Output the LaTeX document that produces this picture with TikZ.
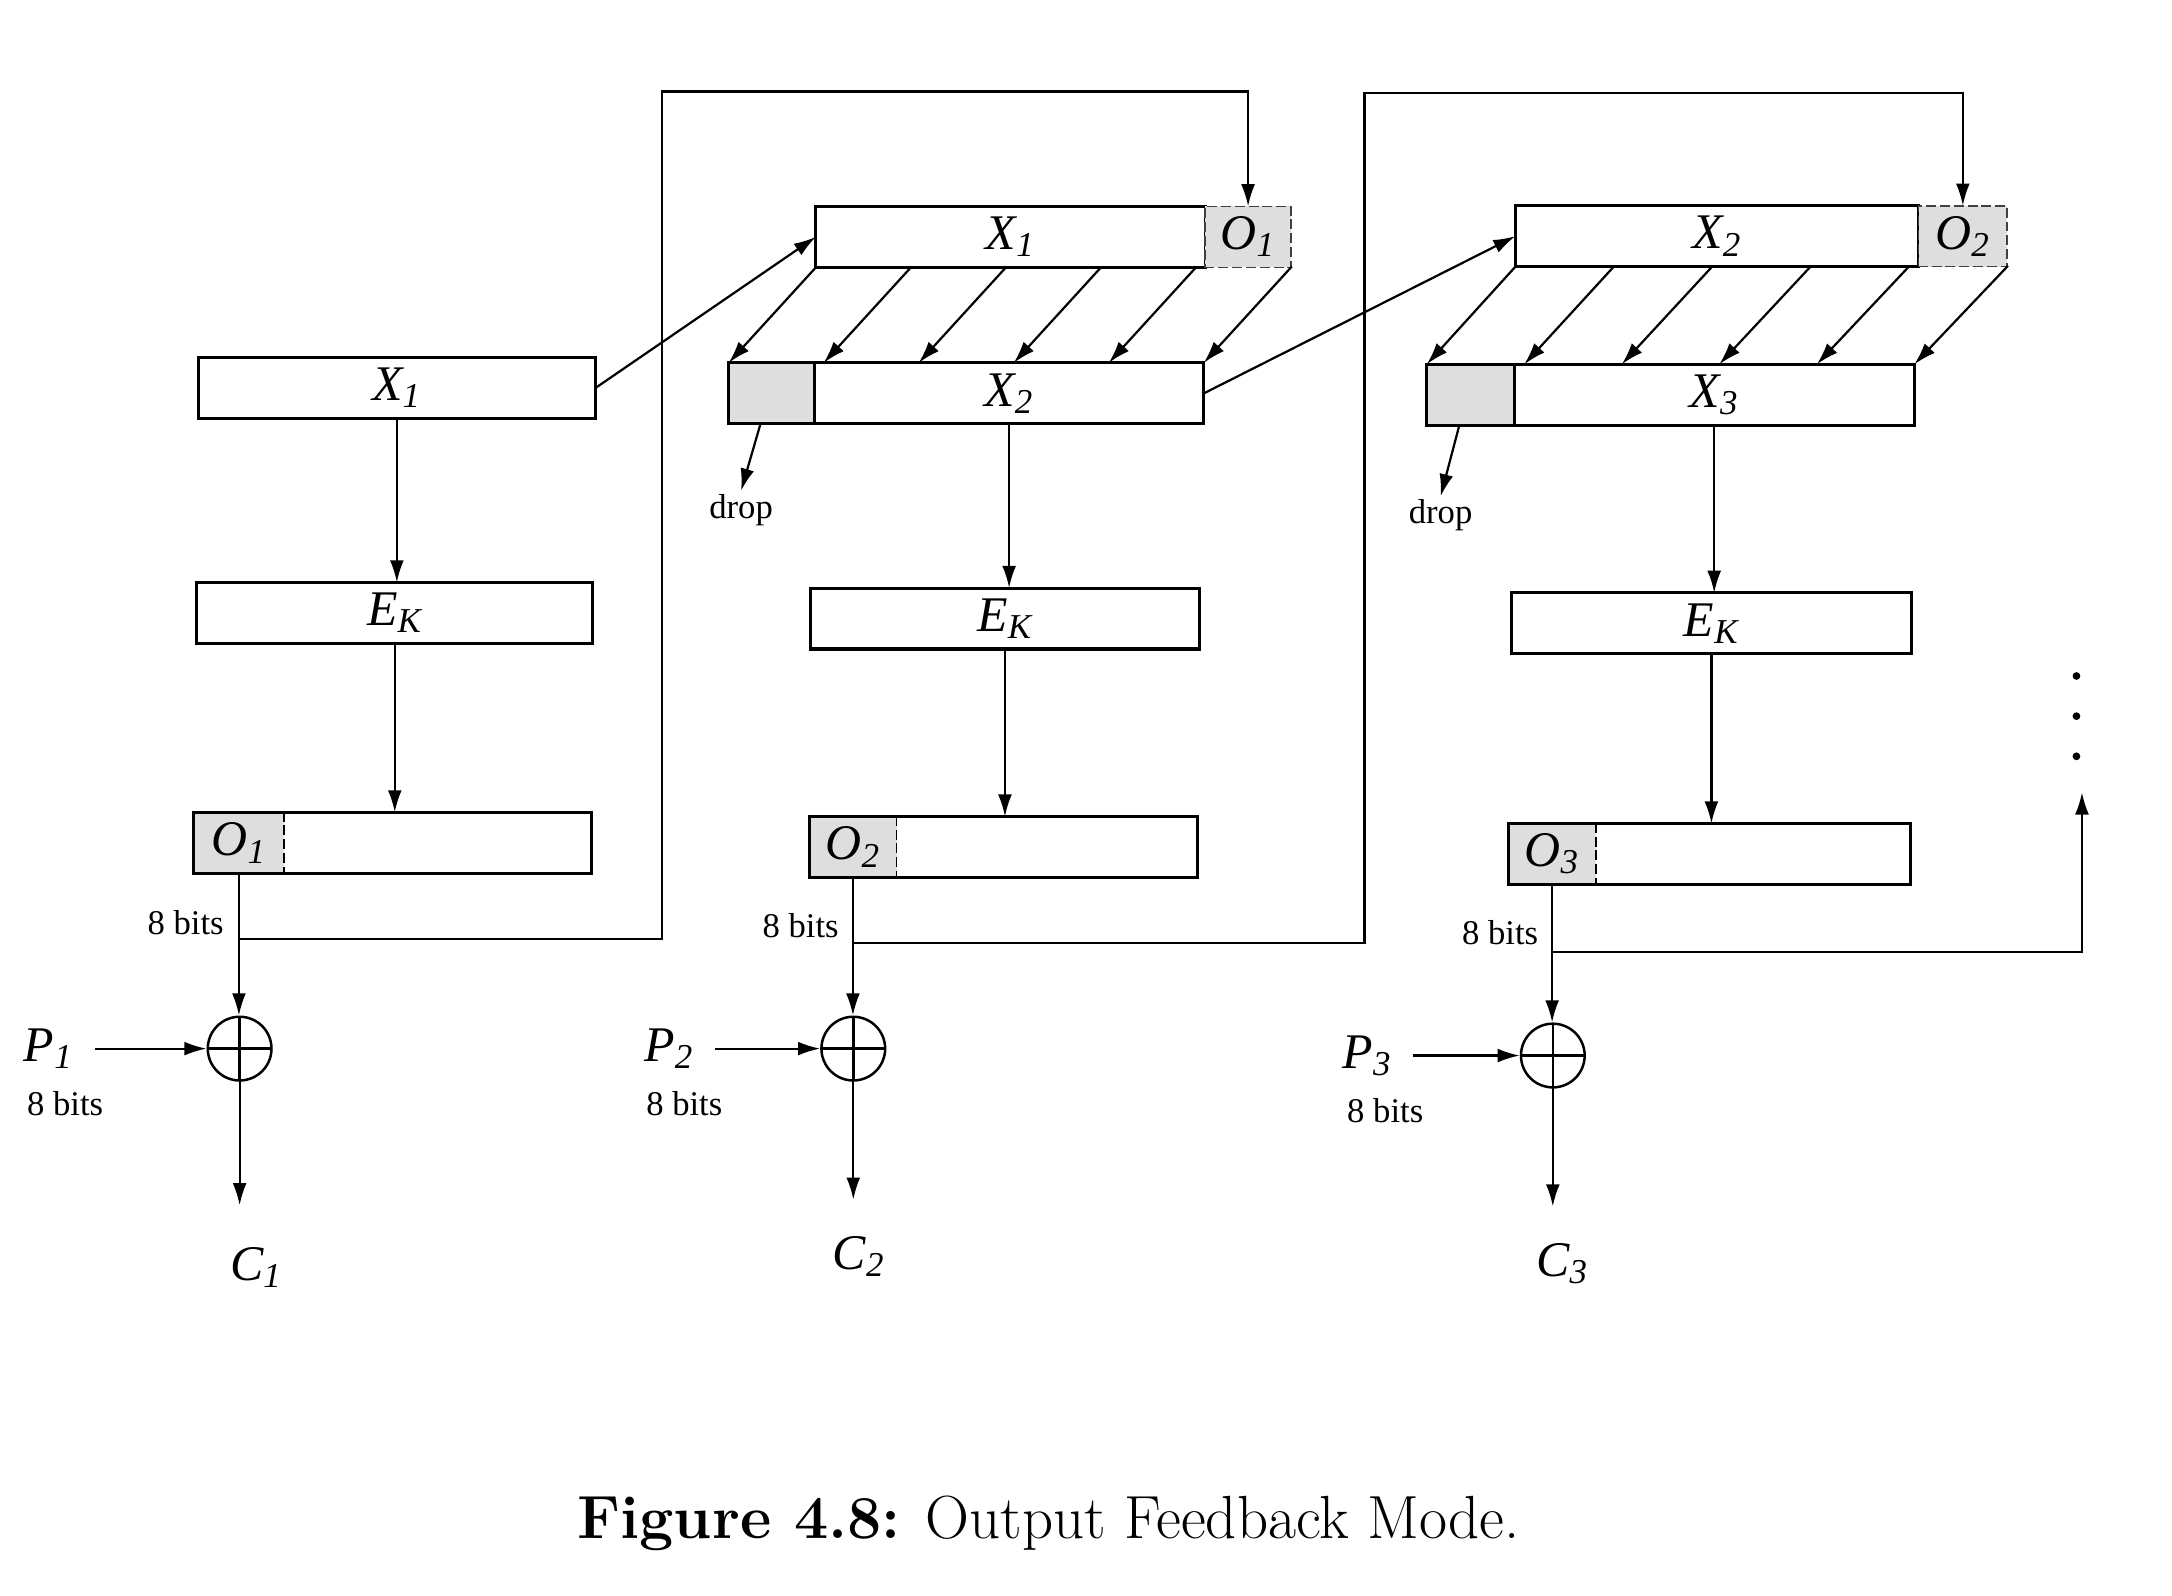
\documentclass[tikz,border=0pt]{standalone}
\usepackage{fontspec}
\newfontfamily\tnr{Liberation Serif}
\usepackage{tikz}
\usetikzlibrary{arrows.meta}
\usetikzlibrary{positioning}
\usetikzlibrary{calc}

\newcommand\sublbl[2]{#1\textsubscript{#2}}

\begin{document}
\begin{tikzpicture}[x=0.5pt,y=-0.5pt,line cap=rect]
	\definecolor{cellgray}{RGB}{222, 222, 222}
	\def\labelfont{\tnr\fontsize{18pt}{18pt}\selectfont\itshape} % register and signal names
	\def\notefont{\tnr\fontsize{12.5pt}{12.5pt}\selectfont} % 8 bits, drop
	\tikzset{
		reg/.style={draw, line width=1.1pt, minimum height=22pt, inner sep=0pt, outer sep=0pt, font=\labelfont},
		cell/.style={reg, draw=none, fill=cellgray},
		wire/.style={line width=0.8pt},
		flow/.style={wire, -{Latex[length=8pt,width=5pt]}},
		xorgate/.style={draw, circle, line width=0.9pt, minimum size=23pt, inner sep=0pt, path picture={\draw[line width=1.3pt] (path picture bounding box.west) -- (path picture bounding box.east); \draw[line width=0.9pt] (path picture bounding box.north) -- (path picture bounding box.south);}},
		note/.style={inner sep=1pt, font=\notefont},
		sig/.style={inner sep=1pt, font=\labelfont}
	}
	\useasboundingbox (0,0) rectangle (1568,1152);
	% first block
	\node[reg, minimum width=143.5pt] (xa) at (286.5,280) {\sublbl{X}{1}};
	\node[reg, minimum width=143pt] (ka) at (285,442.5) {\sublbl{E}{K}};
	\node[cell, minimum width=32.5pt] (oga) at (172.5,608.5) {\sublbl{O}{1}};
	\node[reg, minimum width=143.5pt, anchor=west] (oa) at (oga.west) {};
	\draw[densely dashed, line width=0.6pt] (oga.north east) -- (oga.south east);
	\node[xorgate] (sa) at (173,757) {};
	\node[sig] (pa) at (35,757) {\sublbl{P}{1}};
	\node[note] (va) at (47,797) {8 bits};
	\node[sig] (ca) at (185,915) {\sublbl{C}{1}};
	\node[note] (wa) at (134,666) {8 bits};
	\coordinate (ja) at (oga.south |- 0,678);
	\draw[flow] (xa.south) -- (xa.south |- ka.north);
	\draw[flow] (ka.south) -- (ka.south |- oa.north);
	\draw[flow] (oga.south) -- (oga.south |- sa.north);
	\draw[flow, shorten <=7pt] (pa.east) -- (sa.west);
	\draw[flow, shorten >=14pt] (sa.south) -- (sa.south |- ca.north);
	% second block
	\node[reg, minimum width=140.5pt] (tb) at (729.5,171) {\sublbl{X}{1}};
	\node[cell, draw=black!75, densely dashed, line width=0.6pt, minimum width=31pt, right=0pt of tb] (tbg) {\sublbl{O}{1}};
	\node[reg, fill=cellgray, minimum width=31pt] (bbg) at (557,284) {};
	\node[reg, minimum width=140.5pt, right=0pt of bbg] (bb) {\sublbl{X}{2}};
	\foreach \i in {0,...,5}
		\draw[flow] ($(tb.south west)!\i/5!(tbg.south east)$) -- ($(bbg.north west)!\i/5!(bb.north east)$);
	\node[note] (db) at (535,368) {drop};
	\draw[flow] ([xshift=-4pt]bbg.south) -- (db.north);
	\node[reg, minimum width=140.5pt] (kb) at (725.5,446.5) {\sublbl{E}{K}};
	\node[cell, minimum width=31.5pt] (ogb) at (615.75,611.5) {\sublbl{O}{2}};
	\node[reg, minimum width=140pt, anchor=west] (ob) at (ogb.west) {};
	\draw[densely dashed, line width=0.6pt] (ogb.north east) -- (ogb.south east);
	\node[xorgate] (sb) at (616,757) {};
	\node[sig] (pb) at (483,757) {\sublbl{P}{2}};
	\node[note] (vb) at (494,797) {8 bits};
	\node[sig] (cb) at (620,907) {\sublbl{C}{2}};
	\node[note] (wb) at (578,668) {8 bits};
	\coordinate (jb) at (ogb.south |- 0,681);
	\draw[flow] (xa.east) -- (tb.west);
	\draw[flow] (ja) -| (478,66) -| (tbg.north);
	\draw[flow] (bb.south) -- (bb.south |- kb.north);
	\draw[flow] (kb.south) -- (kb.south |- ob.north);
	\draw[flow] (ogb.south) -- (ogb.south |- sb.north);
	\draw[flow, shorten <=7pt] (pb.east) -- (sb.west);
	\draw[flow, shorten >=12pt] (sb.south) -- (sb.south |- cb.north);
	% third block
	\node[reg, minimum width=145.5pt] (tc) at (1239.5,170.5) {\sublbl{X}{2}};
	\node[cell, draw=black!75, densely dashed, line width=0.6pt, minimum width=32pt, right=0pt of tc] (tcg) {\sublbl{O}{2}};
	\node[reg, fill=cellgray, minimum width=31.5pt] (bcg) at (1061.5,285) {};
	\node[reg, minimum width=144.5pt, right=0pt of bcg] (bc) {\sublbl{X}{3}};
	\foreach \i in {0,...,5}
		\draw[flow] ($(tc.south west)!\i/5!(tcg.south east)$) -- ($(bcg.north west)!\i/5!(bc.north east)$);
	\node[note] (dc) at (1040,372) {drop};
	\draw[flow] ([xshift=-4pt]bcg.south) -- (dc.north);
	\node[reg, minimum width=144.5pt] (kc) at (1235.5,450) {\sublbl{E}{K}};
	\node[cell, minimum width=31.5pt] (ogc) at (1120.5,616.5) {\sublbl{O}{3}};
	\node[reg, minimum width=145pt, anchor=west] (oc) at (ogc.west) {};
	\draw[densely dashed, line width=0.6pt] (ogc.north east) -- (ogc.south east);
	\node[xorgate] (sc) at (1121,762) {};
	\node[sig] (pc) at (987,762) {\sublbl{P}{3}};
	\node[note] (vc) at (1000,802) {8 bits};
	\node[sig] (cc) at (1128,912) {\sublbl{C}{3}};
	\node[note] (wc) at (1083,673) {8 bits};
	\coordinate (jc) at (ogc.south |- 0,687);
	\draw[flow] (bb.east) -- (tc.west);
	\draw[flow] (jb) -| (985,67) -| (tcg.north);
	\draw[flow] (bc.south) -- (bc.south |- kc.north);
	\draw[flow] (kc.south) -- (kc.south |- oc.north);
	\draw[flow] (ogc.south) -- (ogc.south |- sc.north);
	\draw[flow, shorten <=7pt] (pc.east) -- (sc.west);
	\draw[flow, shorten >=12pt] (sc.south) -- (sc.south |- cc.north);
	% continuation
	\foreach \y in {488,517,546}
		\fill (1499,\y) circle (1.4pt);
	\coordinate (more) at (1503,572);
	\draw[flow] (jc) -| (more);
	\node[font=\fontsize{22pt}{26pt}\selectfont] (cap) at (757,1100) {\textbf{Figure 4.8:} Output Feedback Mode.};
\end{tikzpicture}
\end{document}
